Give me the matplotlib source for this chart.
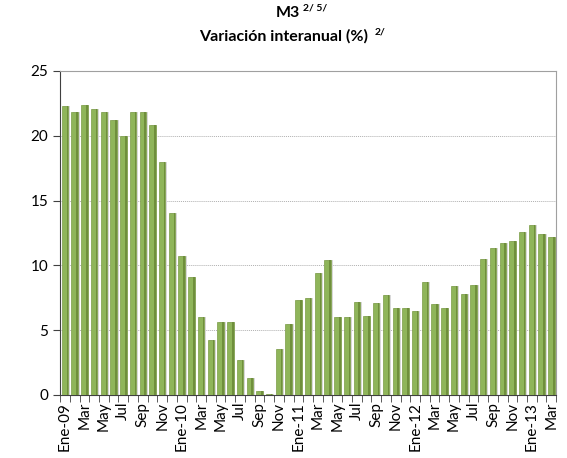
import matplotlib.pyplot as plt
import numpy as np

# Datos: M3, variacion interanual (%), Ene-09 a Mar-13
meses = ["Ene", "Feb", "Mar", "Abr", "May", "Jun", "Jul", "Ago", "Sep", "Oct", "Nov", "Dic"]
anios = ["09", "10", "11", "12", "13"]
valores = [22.3, 21.8, 22.4, 22.1, 21.8, 21.2, 20.0, 21.8, 21.8, 20.8, 18.0, 14.0,
           10.7, 9.1, 6.0, 4.25, 5.6, 5.65, 2.7, 1.3, 0.3, 0.05, 3.5, 5.5,
           7.35, 7.5, 9.4, 10.4, 6.0, 6.0, 7.2, 6.1, 7.1, 7.7, 6.7, 6.7,
           6.45, 8.7, 7.0, 6.7, 8.4, 7.8, 8.5, 10.5, 11.3, 11.7, 11.9, 12.6,
           13.1, 12.4, 12.2]

etiquetas = []
for i in range(len(valores)):
    m = meses[i % 12]
    if m == "Ene":
        etiquetas.append("Ene-" + anios[i // 12])
    else:
        etiquetas.append(m)

plt.rcParams['font.family'] = ['Lato', 'DejaVu Sans']

fig = plt.figure(figsize=(5.67, 4.58), dpi=100)
ax = fig.add_axes([0.106, 0.138, 0.875, 0.707])

x = np.arange(len(valores))
# sombra gris a la derecha
ax.bar(x + 0.16, valores, width=0.7, color="#d8d8d8", zorder=2)
ax.bar(x, valores, width=0.66, color="#8fb55a", edgecolor="#7a9c45", linewidth=0.5, zorder=3)
# borde oscuro derecho
ax.bar(x + 0.25, valores, width=0.16, color="#6f8f3c", zorder=3)

ax.set_xlim(-0.5, len(valores) - 0.5)
ax.set_ylim(0, 25)
ax.set_yticks([0, 5, 10, 15, 20, 25])
ax.yaxis.grid(True, linestyle=(0, (1, 1)), color="#b0b0b0", linewidth=0.7, zorder=0)
ax.set_axisbelow(True)

ax.set_xticks(x[::2])
ax.set_xticklabels(etiquetas[::2], rotation=90)
ax.set_xticks(np.arange(len(valores) + 1) - 0.5, minor=True)
ax.tick_params(axis="x", which="major", length=0, labelsize=11, pad=5)
ax.tick_params(axis="x", which="minor", length=5, color="#404040", direction="out")
ax.tick_params(axis="y", labelsize=11, length=5, color="#404040")

for s in ["top", "right"]:
    ax.spines[s].set_color("#a0a0a0")
    ax.spines[s].set_linewidth(0.8)
ax.spines["left"].set_color("#404040")
ax.spines["bottom"].set_color("#404040")

fig.text(0.508, 0.972, "M3", ha="center", va="center", fontsize=11.5, fontweight="bold")
fig.text(0.535, 0.982, "2/ 5/", ha="left", va="center", fontsize=7.5, fontweight="bold")
fig.text(0.5, 0.921, "Variación interanual (%)", ha="center", va="center", fontsize=11.5, fontweight="bold")
fig.text(0.66, 0.931, "2/", ha="left", va="center", fontsize=7.5, fontweight="bold")

plt.savefig("out.png", dpi=100)
